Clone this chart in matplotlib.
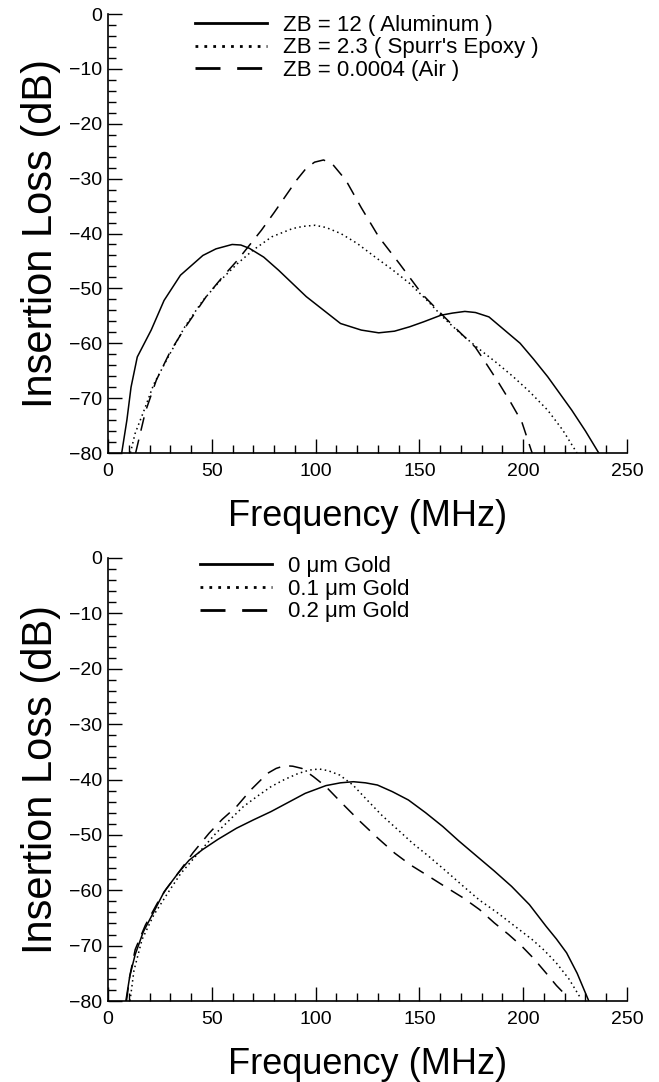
import matplotlib
matplotlib.use("Agg")
import matplotlib.pyplot as plt
from matplotlib.ticker import MultipleLocator

plt.rcParams['font.family'] = ['Liberation Sans', 'DejaVu Sans']

# ---- top panel: backing impedance ----
al_f = [6.6, 9.1, 11.1, 14.1, 20.8, 27, 34.9, 45.7, 52, 59.8, 64, 68.1, 75, 82.2, 95.5,
        112, 122, 130.4, 138, 145.3, 152, 160.3, 166, 171.9, 177, 183.5, 191,
        198.5, 205, 211.8, 223.4, 230, 236.4]
al_db = [-80, -74, -68, -62.5, -57.6, -52.2, -47.6, -44, -42.8, -42, -42.1, -42.7, -44.3, -46.7, -51.5,
         -56.4, -57.6, -58.1, -57.8, -57, -56.1, -54.9, -54.5, -54.2, -54.4, -55.2, -57.6,
         -60, -62.9, -66.1, -72.2, -76, -80]

ep_f = [10.8, 13, 17.4, 22, 29, 37, 45.7, 54, 62.3, 70, 78.9, 88.9, 94, 99.7, 105, 112.1,
        120, 128.7, 137, 145.3, 154, 162, 170, 178.6, 187, 195.2, 203, 211.8, 219, 225.9]
ep_db = [-80, -76.5, -72.2, -67.5, -62.5, -57, -52.2, -48.6, -45.5, -43, -40.6, -39.1, -38.7,
         -38.5, -38.9, -40, -41.8, -44.3, -46.6, -49.1, -52.3, -55.5, -58.3, -61, -63.5, -66.1,
         -68.8, -72.2, -75.8, -80]

air_f = [13.3, 18, 23.3, 30, 37.4, 47.3, 55, 62.3, 68, 73.9, 80, 86.4, 91, 95.5, 99.5, 103.8,
         108, 114.6, 122, 130.4, 140.4, 151.2, 162, 170, 176.9, 182, 188.5, 194, 199.3, 204.3]
air_db = [-80, -72.5, -66.7, -61.5, -57, -51.5, -48, -44.9, -42.2, -39.4, -36.2, -32.7, -30.2,
          -28.1, -27, -26.6, -27.3, -30.3, -35.3, -40.6, -45.5, -51, -55.2, -58.2, -60.7,
          -63.6, -67.4, -70.8, -74.3, -80]

top_labels = ["ZB = 12 ( Aluminum )", "ZB = 2.3 ( Spurr's Epoxy )", "ZB = 0.0004 (Air )"]

# ---- bottom panel: gold layer thickness ----
g0_f = [8.6, 10.5, 13.1, 17, 22.2, 27, 33.8, 39, 45.4, 53, 61.9, 70, 78.5, 87, 95, 105, 112,
        118.2, 124, 129.8, 137, 144.7, 153, 161.3, 169, 177.8, 186, 194.4, 203, 211, 216,
        220.9, 226, 231.6]
g0_db = [-80, -75.5, -71.6, -67.5, -63.8, -60.3, -56.9, -54.6, -52.7, -50.8, -48.8, -47.3,
         -45.8, -44.1, -42.5, -41.1, -40.6, -40.4, -40.6, -41, -42.2, -43.7, -46, -48.5,
         -51.1, -53.9, -56.5, -59.3, -62.6, -66.5, -68.8, -71.3, -75, -80]

g1_f = [10.6, 12.5, 16.4, 22, 28.8, 35, 42.1, 52, 65.2, 72, 78.5, 85, 91.7, 97, 101.7, 106,
        111.6, 118, 124.8, 132, 139.7, 147, 154.6, 163, 171.2, 179, 187.7, 196, 204.3, 210,
        215.9, 222, 227.5]
g1_db = [-80, -74.5, -68.9, -64.5, -60.5, -57, -53.9, -49.7, -44.9, -43, -41.3, -40, -38.9,
         -38.3, -38.1, -38.4, -39.2, -41, -43.7, -46.5, -49.1, -51.6, -53.9, -56.6, -59.3,
         -61.8, -64.1, -66.5, -68.9, -70.8, -73.1, -76, -79.4]

g2_f = [8.9, 10.5, 13.1, 18, 23.8, 28, 33.8, 41, 48.7, 55, 61.9, 69, 76.8, 81, 85.1, 89,
        93.4, 99, 105, 113, 121.5, 130, 138.1, 146, 154.6, 163, 171.2, 179, 186.1, 193,
        199.3, 205, 210.9, 216, 220.9]
g2_db = [-80, -75.5, -70.7, -66.3, -62.3, -59.8, -56.9, -53.2, -49.7, -47.2, -44.9, -41.8,
         -38.9, -38, -37.5, -37.6, -38, -39.5, -41.3, -44.4, -47.6, -50.6, -53.3, -55.5,
         -57.5, -59.5, -61.4, -63.5, -65.9, -68, -70.1, -72.3, -74.9, -77.2, -79.1]

bottom_labels = ["0 \u03bcm Gold", "0.1 \u03bcm Gold", "0.2 \u03bcm Gold"]

styles = [dict(ls='-'), dict(ls=(0, (1, 2.2))), dict(ls=(0, (9, 6)))]

fig = plt.figure(figsize=(6.59, 10.82), dpi=100)
ax1 = fig.add_axes([108/659, 1-453/1082, 519/659, 439/1082])
ax2 = fig.add_axes([108/659, 1-1001/1082, 519/659, 443/1082])


def setup(ax):
    ax.set_xlim(0, 250)
    ax.set_ylim(-80, 0)
    for s in ['top', 'right']:
        ax.spines[s].set_visible(False)
    for s in ['left', 'bottom']:
        ax.spines[s].set_linewidth(1.2)
    ax.xaxis.set_major_locator(MultipleLocator(50))
    ax.xaxis.set_minor_locator(MultipleLocator(10))
    ax.yaxis.set_major_locator(MultipleLocator(10))
    ax.yaxis.set_minor_locator(MultipleLocator(2))
    ax.tick_params(which='major', direction='in', length=10, width=1, labelsize=14)
    ax.tick_params(which='minor', direction='in', length=5.5, width=1)
    ax.tick_params(axis='x', which='major', pad=7)
    ax.tick_params(axis='y', which='major', pad=4)
    ax.set_xlabel("Frequency (MHz)", fontsize=26, labelpad=14)
    ax.set_ylabel("Insertion Loss (dB)", fontsize=30, labelpad=6)


for ax, series, labels, lx, ly in [
        (ax1, [(al_f, al_db), (ep_f, ep_db), (air_f, air_db)], top_labels, 0.1676, 0.9226),
        (ax2, [(g0_f, g0_db), (g1_f, g1_db), (g2_f, g2_db)], bottom_labels, 0.177, 0.930)]:
    setup(ax)
    for (f, db), st, lab in zip(series, styles, labels):
        ax.plot(f, db, color='black', lw=1.1, label=lab, **st)
    leg = ax.legend(loc='center left', bbox_to_anchor=(lx, ly), frameon=False,
                    fontsize=16, handlelength=3.25, handletextpad=0.7,
                    labelspacing=0.08, borderpad=0, borderaxespad=0)
    for ln in leg.get_lines():
        ln.set_linewidth(2)

fig.savefig("out.png", dpi=100)
